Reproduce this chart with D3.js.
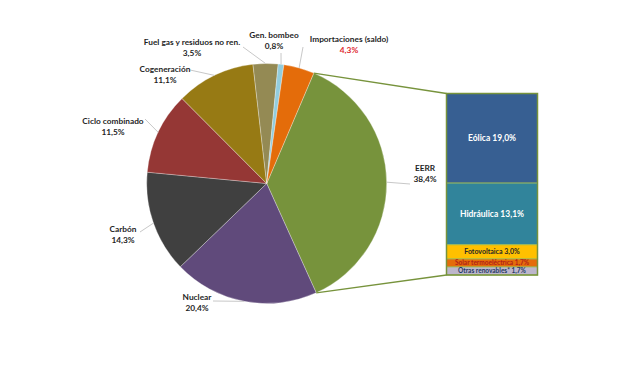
<!DOCTYPE html>
<html><head><meta charset="utf-8">
<script src="https://cdn.jsdelivr.net/npm/d3@7"></script>
<style>body{margin:0;background:#fff;} text{font-family:Lato,"Liberation Sans",sans-serif;font-weight:bold;}</style>
</head><body><svg id="c" width="640" height="384"></svg>
<script>
// Data
const categories = ["EERR","Nuclear","Carbón","Ciclo combinado","Cogeneración","Fuel gas y residuos no ren.","Gen. bombeo","Importaciones (saldo)"];
const values = [38.4, 20.4, 14.3, 11.5, 11.1, 3.5, 0.8, 4.3];
const valueLabels = ["38,4%","20,4%","14,3%","11,5%","11,1%","3,5%","0,8%","4,3%"];
const subCategories = ["Eólica","Hidráulica","Fotovoltaica","Solar termoeléctrica","Otras renovables*"];
const subValues = [19.0, 13.1, 3.0, 1.7, 1.7];
const subValueLabels = ["19,0%","13,1%","3,0%","1,7%","1,7%"];

// Styles / layout
const colors = ["#77933c","#604a7b","#404040","#953735","#977a14","#948a54","#93cddd","#e46c0a"];
const subColors = ["#375f92","#31849b","#ffc000","#e46c0a","#bdb6cc"];
const subText = ["#ffffff","#ffffff","#262626","#b0201a","#1f3864"];
const subSize = [8.5, 8.5, 7, 6.5, 6.5];
// label anchor: text centre x, first-line y, leader end point
const labelPos = [
  {x:425,y:168,lx:410,ly:184},
  {x:197,y:297,lx:213,ly:301},
  {x:123,y:229,lx:140,ly:232},
  {x:113,y:121,lx:145,ly:119},
  {x:165,y:69,lx:190,ly:70},
  {x:192,y:42,lx:243,ly:47},
  {x:274,y:35,lx:281,ly:53},
  {x:349,y:39,lx:303,ly:47}
];

const svg = d3.select("#c");
const cx = 266.7, cy = 183.5, R = 120;
const startDeg = 23.1;
const pie = d3.pie().sort(null).value(d=>d)
  .startAngle(startDeg*Math.PI/180).endAngle(startDeg*Math.PI/180 + 2*Math.PI);
const arcs = pie(values);
const arc = d3.arc().innerRadius(0).outerRadius(R);
const g = svg.append("g").attr("transform",`translate(${cx},${cy})`);

g.selectAll("path").data(arcs).join("path")
  .attr("d",arc).attr("fill",(d,i)=>colors[i])
  .attr("stroke","#ffffff").attr("stroke-opacity",0.5).attr("stroke-width",0.6);

// leader lines
const edge = (a)=>[R*Math.sin(a), -R*Math.cos(a)];
arcs.forEach((d,i)=>{
  const m = (d.startAngle+d.endAngle)/2;
  const p = edge(m);
  const lp = labelPos[i];
  svg.append("line").attr("x1",cx+p[0]).attr("y1",cy+p[1]).attr("x2",lp.lx).attr("y2",lp.ly)
    .attr("stroke","#c8c8c8").attr("stroke-width",1);
});

// labels
arcs.forEach((d,i)=>{
  const lp = labelPos[i];
  const t = svg.append("text").attr("text-anchor","middle").attr("font-size",8.3).attr("fill","#1f1f1f");
  t.append("tspan").attr("x",lp.x).attr("y",lp.y).attr("dy","0.35em").text(categories[i]);
  t.append("tspan").attr("x",lp.x).attr("y",lp.y+11.5).attr("dy","0.35em").text(valueLabels[i])
    .attr("fill", i===7 ? "#e0282f" : "#1f1f1f");
});

// breakdown bar
const bx0 = 446.5, bx1 = 537.5, by0 = 93.5, by1 = 275;
const total = d3.sum(subValues);
const y = d3.scaleLinear().domain([0,total]).range([by0,by1]);
const cum = d3.cumsum(subValues);
const starts = subValues.map((v,i)=>cum[i]-v);

// connector lines
const e0 = arcs[0];
const ps = edge(e0.startAngle), pe = edge(e0.endAngle);
svg.append("line").attr("x1",cx+ps[0]).attr("y1",cy+ps[1]).attr("x2",bx0).attr("y2",y(0))
  .attr("stroke","#77933c").attr("stroke-width",1.3);
svg.append("line").attr("x1",cx+pe[0]).attr("y1",cy+pe[1]).attr("x2",bx0).attr("y2",y(total))
  .attr("stroke","#77933c").attr("stroke-width",1.3);

const bg = svg.append("g");
bg.selectAll("rect").data(subValues).join("rect")
  .attr("x",bx0).attr("width",bx1-bx0)
  .attr("y",(d,i)=>y(starts[i])).attr("height",(d,i)=>y(cum[i])-y(starts[i]))
  .attr("fill",(d,i)=>subColors[i]).attr("stroke","#9bbb59").attr("stroke-width",0.8);
svg.append("rect").attr("x",bx0).attr("y",by0).attr("width",bx1-bx0).attr("height",by1-by0)
  .attr("fill","none").attr("stroke","#77933c").attr("stroke-width",1.5);
bg.selectAll("text").data(subValues).join("text")
  .attr("x",(bx0+bx1)/2).attr("y",(d,i)=>(y(starts[i])+y(cum[i]))/2).attr("dy","0.35em")
  .attr("text-anchor","middle").attr("font-size",(d,i)=>subSize[i]).attr("fill",(d,i)=>subText[i])
  .text((d,i)=>subCategories[i]+" "+subValueLabels[i]);
</script></body></html>
